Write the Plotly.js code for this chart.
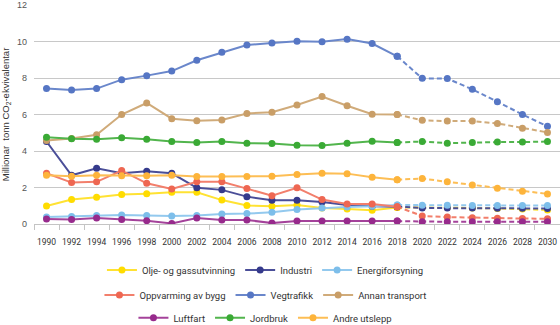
<!DOCTYPE html>
<html>
<head>
<meta charset="utf-8">
<script src="https://cdn.plot.ly/plotly-3.0.1.min.js"></script>
<style>html,body{margin:0;padding:0;background:#fff;}#chart{width:560px;height:325px;}</style>
</head>
<body>
<div id="chart"></div>
<script>
const years = [1990,1992,1994,1996,1998,2000,2002,2004,2006,2008,2010,2012,2014,2016,2018,2020,2022,2024,2026,2028,2030];
const lastHistoricYear = 2018;

const oljeGass    = [0.99,1.34,1.46,1.61,1.66,1.74,1.74,1.31,1.01,0.97,1.04,0.88,0.82,0.75,0.91,0.91,0.90,0.88,0.85,0.82,0.77];
const industri    = [4.52,2.67,3.05,2.78,2.89,2.78,1.98,1.87,1.50,1.30,1.30,1.21,1.04,0.97,0.95,0.88,0.87,0.87,0.86,0.86,0.85];
const energi      = [0.38,0.41,0.46,0.49,0.47,0.44,0.47,0.55,0.57,0.64,0.79,0.88,0.93,0.97,1.04,1.03,1.03,1.02,1.02,1.02,1.01];
const oppvarming  = [2.78,2.27,2.31,2.93,2.23,1.92,2.31,2.31,1.94,1.55,1.98,1.34,1.10,1.10,0.95,0.44,0.38,0.34,0.31,0.30,0.29];
const vegtrafikk  = [7.42,7.34,7.42,7.91,8.13,8.38,8.97,9.41,9.81,9.92,10.02,9.98,10.13,9.89,9.19,7.98,7.97,7.38,6.70,6.00,5.35];
const annanTransp = [4.58,4.68,4.89,6.00,6.63,5.77,5.66,5.70,6.06,6.12,6.52,6.98,6.48,6.02,6.00,5.68,5.64,5.64,5.51,5.25,5.02];
const luftfart    = [0.27,0.24,0.33,0.24,0.18,0.03,0.33,0.22,0.22,0.05,0.16,0.16,0.16,0.16,0.16,0.12,0.12,0.12,0.12,0.12,0.12];
const jordbruk    = [4.76,4.67,4.65,4.73,4.65,4.52,4.47,4.52,4.43,4.41,4.32,4.30,4.43,4.54,4.47,4.52,4.43,4.47,4.49,4.49,4.52];
const andre       = [2.67,2.62,2.67,2.64,2.64,2.67,2.60,2.60,2.60,2.62,2.71,2.78,2.76,2.56,2.43,2.49,2.31,2.14,1.96,1.79,1.65];

const seriesNames = ["Olje- og gassutvinning","Industri","Energiforsyning","Oppvarming av bygg","Vegtrafikk","Annan transport","Luftfart","Jordbruk","Andre utslepp"];
const seriesData = [oljeGass, industri, energi, oppvarming, vegtrafikk, annanTransp, luftfart, jordbruk, andre];
const markerColors = ["#FFDC00","#353A8C","#7DBEEA","#EE6752","#5676C4","#C99E67","#972A8C","#3AAA35","#FDB43B"];
const lineColors   = ["#FFE233","#4A4E98","#93C9EE","#F27F6C","#6A87CB","#D0AB7A","#A4429A","#52B54D","#FDBE55"];
const legendGroups = ["legend","legend","legend","legend2","legend2","legend2","legend3","legend3","legend3"];

const traces = [];
seriesNames.forEach((name, i) => {
  const hx = [], hy = [], px = [], py = [];
  years.forEach((yr, j) => {
    if (yr <= lastHistoricYear) { hx.push(yr); hy.push(seriesData[i][j]); }
    if (yr >= lastHistoricYear) { px.push(yr); py.push(seriesData[i][j]); }
  });
  traces.push({
    x: px, y: py, type: 'scatter', mode: 'lines+markers', name: name, showlegend: false,
    legendgroup: 'g' + i,
    line: {color: lineColors[i], width: 2, dash: '5px,3px'},
    marker: {color: markerColors[i], size: 7}
  });
  traces.push({
    x: hx, y: hy, type: 'scatter', mode: 'lines+markers', name: name,
    legendgroup: 'g' + i, legend: legendGroups[i],
    line: {color: lineColors[i], width: 2},
    marker: {color: markerColors[i], size: 7}
  });
});

const legFont = {family: "Roboto, 'Liberation Sans', sans-serif", size: 9.5, color: '#333'};
const legBase = {orientation: 'h', xanchor: 'center', yanchor: 'middle', yref: 'container', x: 0.44, font: legFont,
                 bgcolor: 'rgba(0,0,0,0)', itemwidth: 30, tracegroupgap: 0};

const layout = {
  width: 560, height: 325,
  margin: {l: 34, r: 0, t: 5, b: 101, autoexpand: false},
  paper_bgcolor: '#fff', plot_bgcolor: '#fff',
  showlegend: true,
  xaxis: {
    range: [1989, 2031], tickmode: 'array', tickvals: years, ticks: '',
    tickfont: {family: "Roboto, 'Liberation Sans', sans-serif", size: 8.5, color: '#333'},
    ticklabelstandoff: 10,
    showgrid: false, zeroline: false, showline: true, linecolor: '#c4c4c4', linewidth: 1,
    minor: {tickmode: 'linear', tick0: 1989, dtick: 2, ticks: 'outside', ticklen: 5, tickcolor: '#c4c4c4', showgrid: false},
    fixedrange: true
  },
  yaxis: {
    range: [0, 12], tickvals: [0,2,4,6,8,10,12], ticks: '',
    tickfont: {family: "'Liberation Sans', Arial, sans-serif", size: 9, color: '#555'},
    showgrid: true, gridcolor: '#c8c8c8', gridwidth: 1, zeroline: false, showline: false,
    ticklabelstandoff: 6,
    title: {text: 'Millionar  tonn CO<sub>2</sub>-ekvivalentar', standoff: 6,
            font: {family: "'Liberation Sans', Arial, sans-serif", size: 9.5, color: '#333'}},
    fixedrange: true
  },
  legend:  Object.assign({}, legBase, {y: 0.169}),
  legend2: Object.assign({}, legBase, {y: 0.092}),
  legend3: Object.assign({}, legBase, {y: 0.022})
};

Plotly.newPlot('chart', traces, layout, {displayModeBar: false, staticPlot: true});
</script>
</body>
</html>
